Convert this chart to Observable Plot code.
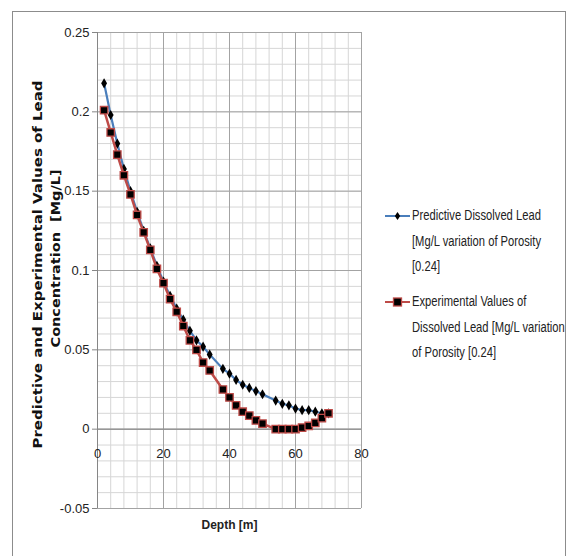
<!DOCTYPE html>
<html><head><meta charset="utf-8">
<script src="https://cdn.jsdelivr.net/npm/d3@7"></script>
<script src="https://cdn.jsdelivr.net/npm/@observablehq/plot@0.6"></script>
<style>
body{margin:0;background:#fff;}
#wrap{position:relative;width:570px;height:556px;overflow:hidden;background:#fff;}
#frame{position:absolute;left:12px;top:11px;width:554px;height:600px;border:1px solid #8c8c8c;box-sizing:border-box;}
#wrap svg.plot{position:absolute;left:0;top:0;}
.leg{position:absolute;left:385px;font-family:"Liberation Sans",Arial,sans-serif;font-size:14px;line-height:25.5px;color:#222;}
.leg svg{position:absolute;left:0;top:0;}
.leg .t{position:absolute;left:27px;top:0;white-space:nowrap;transform:scaleX(0.8);transform-origin:0 0;}
</style></head>
<body><div id="wrap"><div id="frame"></div></div>
<script>
// Depth [m]
const depth = [2,4,6,8,10,12,14,16,18,20,22,24,26,28,30,32,34,38,40,42,44,46,48,50,54,56,58,60,62,64,66,68,70];
// Predictive Dissolved Lead [Mg/L]
const predicted = [0.218,0.198,0.180,0.164,0.150,0.137,0.125,0.114,0.103,0.093,0.084,0.076,0.069,0.062,0.056,0.052,0.047,0.038,0.035,0.031,0.028,0.026,0.024,0.022,0.018,0.016,0.015,0.013,0.012,0.012,0.011,0.010,0.010];
// Experimental values of Dissolved Lead [Mg/L]
const experimental = [0.201,0.187,0.173,0.160,0.148,0.135,0.124,0.113,0.101,0.092,0.082,0.074,0.065,0.056,0.050,0.042,0.037,0.025,0.020,0.015,0.011,0.0085,0.0055,0.0035,0,0,0,0,0.001,0.002,0.004,0.007,0.010];
const xTicks = [0,20,40,60,80];
const yTicks = [-0.05,0,0.05,0.1,0.15,0.2,0.25];
const yTickLabels = ["-0.05","0","0.05","0.1","0.15","0.2","0.25"];
const seriesNames = ["Predictive  Dissolved Lead\n[Mg/L variation of  Porosity\n[0.24]", "Experimental Values of\nDissolved Lead [Mg/L variation\nof  Porosity [0.24]"];
const yTitleLines = ["Predictive and Experimental Values of Lead", "Concentration  [Mg/L]"];
const xTitle = "Depth [m]";

const xMinor = d3.range(0, 81, 4);
const yMinor = d3.range(-5, 26).map(i => i / 100);
const FONT = '"Liberation Sans",Arial,sans-serif';
const BLUE = "#4a7ebb", RED = "#be4b48";

const rows = depth.map((d, i) => ({depth: d, pred: predicted[i], exp: experimental[i]}));

const titleStyle = {frameAnchor: "left", textAnchor: "middle", rotate: -90, fontWeight: "bold", fontSize: 13, fontFamily: "DejaVu Sans", lineAnchor: "middle", fill: "#111"};

const chart = Plot.plot({
  width: 570, height: 556,
  marginLeft: 97, marginRight: 209, marginTop: 32, marginBottom: 48,
  x: {domain: [0, 80]},
  y: {domain: [-0.05, 0.25]},
  style: {fontFamily: FONT, fontSize: "13px", color: "#222", background: "transparent"},
  marks: [
    Plot.ruleX(xMinor, {stroke: "#d6d6d6", strokeWidth: 1}),
    Plot.ruleY(yMinor, {stroke: "#d6d6d6", strokeWidth: 1}),
    Plot.ruleX(xTicks, {stroke: "#a3a3a3", strokeWidth: 1}),
    Plot.ruleY(yTicks, {stroke: "#a3a3a3", strokeWidth: 1}),
    Plot.ruleX([0], {stroke: "#868686", strokeWidth: 1}),
    Plot.ruleY([0], {stroke: "#868686", strokeWidth: 1}),
    Plot.axisY({ticks: yTicks, tickFormat: d => yTickLabels[yTicks.indexOf(d)], tickSize: 5, tickPadding: 3, stroke: "#868686", label: null, fontSize: 13}),
    Plot.axisX({ticks: xTicks, tickFormat: d => String(d), tickSize: 0, tickPadding: 0, dy: -60, label: null, fontSize: 13}),
    Plot.text([xTitle], {frameAnchor: "bottom", dy: 17, fontWeight: "bold", fontSize: 12, lineAnchor: "middle"}),
    Plot.text([yTitleLines[0]], {...titleStyle, dx: -60, dy: -6}),
    Plot.text([yTitleLines[1]], {...titleStyle, dx: -42, dy: -12}),
    Plot.line(rows, {x: "depth", y: "pred", stroke: BLUE, strokeWidth: 2.2}),
    Plot.dot(rows, {x: "depth", y: "pred", symbol: "diamond", r: 3.1, fill: "#000", stroke: "none"}),
    Plot.line(rows, {x: "depth", y: "exp", stroke: RED, strokeWidth: 2.5}),
    Plot.dot(rows, {x: "depth", y: "exp", symbol: "square", r: 4.2, fill: "#000", stroke: RED, strokeWidth: 1.3})
  ]
});
chart.classList.add("plot");
// fit the two title lines to the lengths seen in the reference
const titleLengths = [368, 178];
chart.querySelectorAll("text").forEach(t => {
  const k = yTitleLines.indexOf(t.textContent);
  if (k >= 0) { t.setAttribute("textLength", titleLengths[k]); t.setAttribute("lengthAdjust", "spacingAndGlyphs"); }
});
const wrap = document.getElementById("wrap");
wrap.appendChild(chart);

// legend
const legTops = [203, 289];
const legColors = [BLUE, RED];
seriesNames.forEach((name, i) => {
  const div = document.createElement("div");
  div.className = "leg";
  div.style.top = legTops[i] + "px";
  const marker = i === 0
    ? '<path d="M12.5,9 L15.2,13 L12.5,17 L9.8,13 Z" fill="#000"/>'
    : '<rect x="8.5" y="9" width="8" height="8" fill="#000" stroke="' + RED + '" stroke-width="1.3"/>';
  div.innerHTML = '<svg width="26" height="26"><line x1="0" x2="25" y1="13" y2="13" stroke="' + legColors[i] + '" stroke-width="2"/>' + marker + '</svg>' +
    '<div class="t">' + name.split("\n").join("<br>") + '</div>';
  wrap.appendChild(div);
});
</script>
</body></html>
